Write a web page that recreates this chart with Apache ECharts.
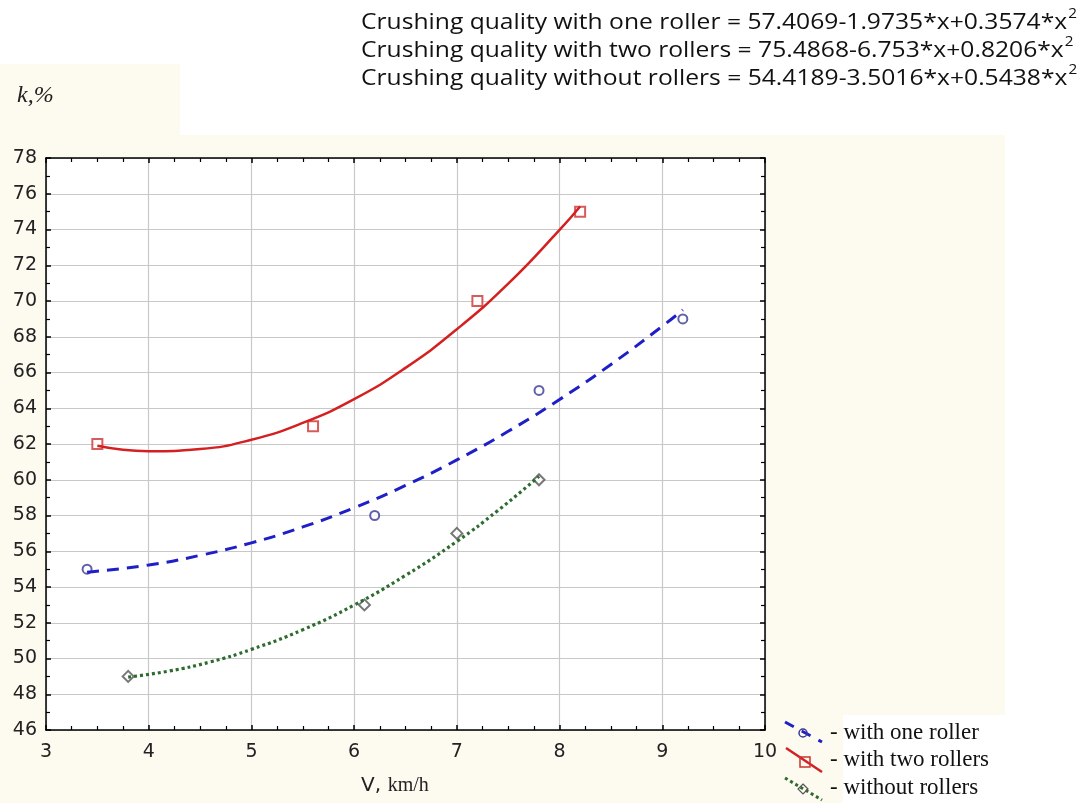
<!DOCTYPE html>
<html><head><meta charset="utf-8">
<script src="https://cdn.jsdelivr.net/npm/echarts@6/dist/echarts.min.js"></script>
<style>html,body{margin:0;padding:0;background:#fff}#c{width:1092px;height:803px}</style>
</head><body><div id="c"></div>
<script>
// Measured points
const oneRollerPts = [[3.4,55],[6.2,58],[7.8,65],[9.2,69]];
const twoRollersPts = [[3.5,62],[5.6,63],[7.2,70],[8.2,75]];
const noRollersPts = [[3.8,49],[6.1,53],[7.0,57],[7.8,60]];
// Fitted curves, values
const oneRollerCurve = [[3.4,54.83],[4,55.23],[4.5,55.77],[5,56.47],[5.5,57.36],[6,58.43],[6.5,59.68],[7,61.11],[7.5,62.71],[8,64.49],[8.5,66.45],[9,68.59],[9.2,69.50]];
const twoRollersCurve = [[3.5,61.90],[4,61.60],[4.5,61.72],[5,62.24],[5.5,63.18],[6,64.51],[6.5,66.26],[7,68.42],[7.5,70.97],[8,73.98],[8.2,75.29]];
const noRollersCurve = [[3.8,48.96],[4.2,49.30],[4.6,49.81],[5,50.51],[5.5,51.61],[6,52.99],[6.5,54.65],[7,56.55],[7.4,58.28],[7.8,60.19]];
const equations = [
  'Crushing quality with one roller = 57.4069-1.9735*x+0.3574*x',
  'Crushing quality with two rollers = 75.4868-6.753*x+0.8206*x',
  'Crushing quality without rollers = 54.4189-3.5016*x+0.5438*x'
];
const legendNames = ['- with one roller','- with two rollers','- without rollers'];

const chart = echarts.init(document.getElementById('c'));
const axisBase = {
  type:'value',
  axisLine:{show:true,onZero:false,lineStyle:{color:'#000',width:1.5}},
  axisTick:{show:true,inside:true,length:5,lineStyle:{color:'#000',width:1.5}},
};
const labelFont = 'DejaVu Sans, sans-serif';
const xLabel = {show:true,color:'#222',fontSize:19,fontFamily:labelFont,margin:13};
const yLabel = {show:true,color:'#222',fontSize:19,fontFamily:labelFont,margin:9};
const eqGraphics = equations.map((t,i)=>({
  type:'text', left:361, top:7+i*28, scaleX:1.095, originX:0, originY:0,
  style:{text:'{a|'+t+'}{s|2}', rich:{
    a:{fontFamily:'Open Sans, sans-serif',fontSize:22.5,fill:'#111',verticalAlign:'bottom'},
    s:{fontFamily:'Open Sans, sans-serif',fontSize:14,fill:'#111',verticalAlign:'top',padding:[0,0,13,1]}
  }}
}));
chart.setOption({
  backgroundColor:'#fff',
  animation:false,
  grid:{left:46,right:327,top:158,bottom:73,show:true,backgroundColor:'#fff',borderWidth:0},
  xAxis:[
    Object.assign({},axisBase,{min:3,max:10,interval:1,position:'bottom',
      minorTick:{show:true,splitNumber:4,length:4,lineStyle:{color:'#000',width:1.2}},
      axisLabel:xLabel,
      splitLine:{show:true,lineStyle:{color:'#c8c8c8',width:1.2}}}),
    Object.assign({},axisBase,{min:3,max:10,interval:1,position:'top',
      minorTick:{show:true,splitNumber:4,length:4,lineStyle:{color:'#000',width:1.2}},
      axisLabel:{show:false},splitLine:{show:false}})
  ],
  yAxis:[
    Object.assign({},axisBase,{min:46,max:78,interval:2,position:'left',
      minorTick:{show:true,splitNumber:2,length:4,lineStyle:{color:'#000',width:1.2}},
      axisLabel:yLabel,
      splitLine:{show:true,lineStyle:{color:'#c8c8c8',width:1.2}}}),
    Object.assign({},axisBase,{min:46,max:78,interval:2,position:'right',
      minorTick:{show:true,splitNumber:2,length:4,lineStyle:{color:'#000',width:1.2}},
      axisLabel:{show:false},splitLine:{show:false}})
  ],
  series:[
    {type:'line',data:oneRollerCurve,smooth:true,showSymbol:false,silent:true,
      lineStyle:{color:'#1f1fc8',width:3,type:[12,8]}},
    {type:'line',data:twoRollersCurve,smooth:true,showSymbol:false,silent:true,
      lineStyle:{color:'#d42020',width:2.5,type:'solid'}},
    {type:'line',data:noRollersCurve,smooth:true,showSymbol:false,silent:true,
      lineStyle:{color:'#2e6b2e',width:3.2,type:[3,3]}},
    {type:'scatter',data:oneRollerPts,symbol:'emptyCircle',symbolSize:9,
      itemStyle:{color:'#3a3a96',borderWidth:1.5}},
    {type:'scatter',data:twoRollersPts,symbol:'emptyRect',symbolSize:10,
      itemStyle:{color:'#cc3333',borderWidth:1.5}},
    {type:'scatter',data:noRollersPts,symbol:'emptyDiamond',symbolSize:11,
      itemStyle:{color:'#555',borderWidth:1.2}}
  ],
  graphic:[
    {type:'rect',z:-10,shape:{x:0,y:135,width:1005,height:668},style:{fill:'#fdfaf0'}},
    {type:'rect',z:-10,shape:{x:0,y:64,width:180,height:72},style:{fill:'#fdfaf0'}},
    {type:'rect',z:-9,shape:{x:843,y:715,width:249,height:88},style:{fill:'#fff'}},
    {type:'text',left:17,top:84,style:{text:'k,%',fontFamily:'Liberation Serif, serif',fontStyle:'italic',fontSize:24,fill:'#222'}},
    {type:'text',left:361,top:776,style:{text:'{a|V,}  {b|km/h}',rich:{
      a:{fontFamily:'DejaVu Sans, sans-serif',fontSize:20,fill:'#222'},
      b:{fontFamily:'Liberation Serif, serif',fontSize:20,fill:'#222'}}}},
    // legend icons
    {type:'line',shape:{x1:785,y1:722,x2:822,y2:742},style:{stroke:'#1f1fc8',lineWidth:3,lineDash:[10,9]}},
    {type:'circle',shape:{cx:803,cy:733,r:4},style:{fill:'none',stroke:'#3a3a96',lineWidth:1.5}},
    {type:'line',shape:{x1:786,y1:748,x2:822,y2:772},style:{stroke:'#d42020',lineWidth:2.5}},
    {type:'rect',shape:{x:800,y:757,width:10,height:10},style:{fill:'none',stroke:'#cc3333',lineWidth:1.5}},
    {type:'line',shape:{x1:785,y1:778,x2:822,y2:800},style:{stroke:'#2e6b2e',lineWidth:3,lineDash:[3,3]}},
    {type:'polygon',shape:{points:[[803,784],[808,789],[803,794],[798,789]]},style:{fill:'none',stroke:'#555',lineWidth:1.2}},
    {type:'text',left:830,top:721,style:{text:legendNames[0],fontFamily:'Liberation Serif, serif',fontSize:23,fill:'#111'}},
    {type:'text',left:830,top:748,style:{text:legendNames[1],fontFamily:'Liberation Serif, serif',fontSize:23,fill:'#111'}},
    {type:'text',left:830,top:776,style:{text:legendNames[2],fontFamily:'Liberation Serif, serif',fontSize:23,fill:'#111'}}
  ].concat(eqGraphics)
});
</script></body></html>
